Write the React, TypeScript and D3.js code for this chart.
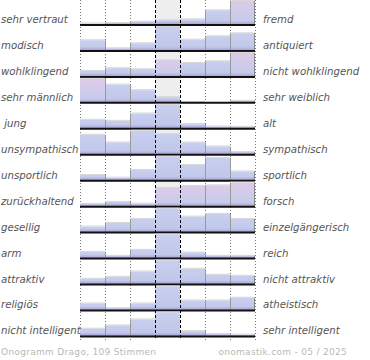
import React from "react";
import * as d3 from "d3";

const leftLabels = ["sehr vertraut", "modisch", "wohlklingend", "sehr männlich", " jung", "unsympathisch", "unsportlich", "zurückhaltend", "gesellig", "arm", "attraktiv", "religiös", "nicht intelligent"];
const rightLabels = ["fremd", "antiquiert", "nicht wohlklingend", "sehr weiblich", "alt", "sympathisch", "sportlich", "forsch", "einzelgängerisch", "reich", "nicht attraktiv", "atheistisch", "sehr intelligent"];
const steps = [1, 2, 3, 4, 5, 6, 7];
const values: number[][] = [
  [1.5, 2, 3.3, 4.7, 5.7, 14.7, 24],
  [10.7, 2.7, 7.7, 24, 11.3, 14.7, 17.7],
  [6, 8.7, 7.7, 16.7, 14, 15.7, 24],
  [24, 18.3, 12.7, 5.7, 0.7, 0, 2],
  [9, 8, 15.3, 24, 4.7, 2.3, 2],
  [20, 12.3, 24, 20.7, 12.3, 8.3, 2.7],
  [5.7, 3, 10.7, 24, 15.7, 22.7, 9.3],
  [2.7, 4.7, 3, 18.7, 20.7, 21.3, 24],
  [6, 9.7, 13.7, 24, 16, 18.7, 13.7],
  [6.7, 2.7, 8.7, 24, 6, 2.7, 2.7],
  [5.7, 7.7, 13, 24, 15.7, 9.7, 8.7],
  [7, 2.3, 7, 24, 10, 10, 12.7],
  [7.7, 11, 17, 24, 5.3, 2.3, 1.7],
];
// bars drawn with the rose tint: [row, step]
const accentBars: [number, number][] = [[0, 7], [2, 4], [2, 7], [3, 1], [7, 4], [7, 5], [7, 6], [7, 7]];
const footerLeft = "Onogramm Drago, 109 Stimmen";
const footerRight = "onomastik.com - 05 / 2025";

export default function App() {
  const W = 370, H = 360;
  const x = d3.scaleBand<number>().domain(steps).range([80, 255]).paddingInner(0).paddingOuter(0);
  const rowY = d3.scaleLinear().domain([0, leftLabels.length - 1]).range([25, 336.4]);
  const barMax = 24;
  const bw = x.bandwidth();
  const centerStep = 4;
  const font = "'DejaVu Sans', Verdana, sans-serif";
  const isAccent = (r: number, s: number) => accentBars.some(([a, b]) => a === r && b === s);
  const gridXs = [80, ...steps.map((s) => x(s)! + bw)].filter((v) => v !== x(centerStep) && v !== x(centerStep)! + bw);

  return (
    <svg width={W} height={H} style={{ position: "fixed", left: 0, top: 0, background: "#fff" }}>
      <defs>
        <linearGradient id="gBlue" x1="0" y1="0" x2="0" y2="1">
          <stop offset="0" stopColor="#c8cfee" />
          <stop offset="1" stopColor="#bfc5e8" />
        </linearGradient>
        <linearGradient id="gRose" x1="0" y1="0" x2="0" y2="1">
          <stop offset="0" stopColor="#dccbe8" />
          <stop offset="0.7" stopColor="#cbcbec" />
          <stop offset="1" stopColor="#c3c6ea" />
        </linearGradient>
        <linearGradient id="gFoot" x1="0" y1="0" x2="0" y2="1">
          <stop offset="0" stopColor="#a59cd4" stopOpacity="0" />
          <stop offset="1" stopColor="#a59cd4" stopOpacity="1" />
        </linearGradient>
      </defs>
      <rect x={x(centerStep)} y={0} width={bw} height={337} fill="#eeeeee" />
      {gridXs.map((gx) => (
        <line key={"g" + gx} x1={gx + 0.5} x2={gx + 0.5} y1={0} y2={340} stroke="#777" strokeDasharray="1,2" />
      ))}
      {values.map((row, r) => {
        const base = rowY(r);
        const h = d3.scaleLinear().domain([0, d3.max(row)!]).range([0, barMax]);
        return (
          <g key={"r" + r}>
            {row.map((v, i) => {
              const s = steps[i];
              const bh = h(v);
              if (bh <= 0.2) return null;
              const x0 = x(s)!;
              return (
                <g key={"b" + i}>
                  <rect x={x0} y={base - bh - 1} width={bw} height={1} fill="#d8d8d8" />
                  <rect x={x0} y={base - bh} width={bw} height={bh} fill={isAccent(r, s) ? "url(#gRose)" : "url(#gBlue)"} />
                  <rect x={x0} y={base - Math.min(bh, 4)} width={bw} height={Math.min(bh, 4)} fill="url(#gFoot)" />
                </g>
              );
            })}
            {steps.map((s, i) => {
              if (i === 0) return null;
              const bx = x(s)!;
              if (s === centerStep || s === centerStep + 1) return null;
              const top = Math.max(h(row[i]), h(row[i - 1]));
              return <line key={"e" + i} x1={bx + 0.5} x2={bx + 0.5} y1={base - top} y2={base} stroke="#999" />;
            })}
            <line x1={x(7)! + bw - 0.5} x2={x(7)! + bw - 0.5} y1={base - h(row[6])} y2={base} stroke="#888" />
            <line x1={80} x2={255} y1={base} y2={base} stroke="#111" strokeWidth={2} />
            <text x={1} y={base - 2} fontFamily={font} fontStyle="italic" fontSize={10.2} fill="#555" xmlSpace="preserve">{leftLabels[r]}</text>
            <text x={263} y={base - 2} fontFamily={font} fontStyle="italic" fontSize={10.2} fill="#555">{rightLabels[r]}</text>
          </g>
        );
      })}
      {[x(centerStep)!, x(centerStep)! + bw].map((cx) => (
        <line key={"c" + cx} x1={cx + 0.5} x2={cx + 0.5} y1={0} y2={339} stroke="#000" strokeDasharray="3,2" />
      ))}
      <text x={1} y={355} fontFamily={font} fontSize={9} fill="#b8b8b8" letterSpacing={0.3}>{footerLeft}</text>
      <text x={347} y={355} textAnchor="end" fontFamily={font} fontSize={9} fill="#b8b8b8" letterSpacing={0.3}>{footerRight}</text>
    </svg>
  );
}
